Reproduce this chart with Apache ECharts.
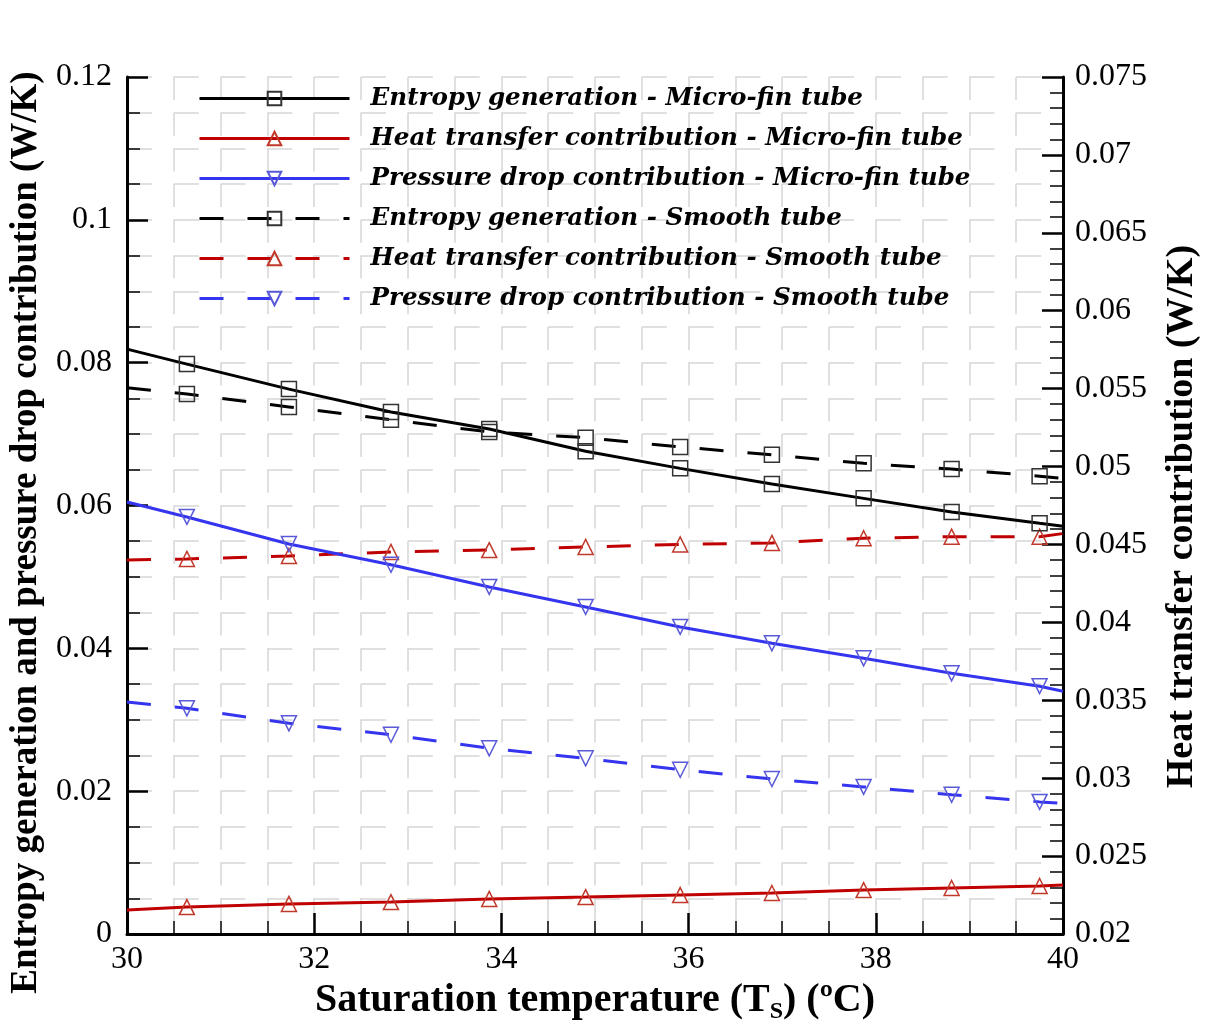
<!DOCTYPE html>
<html>
<head>
<meta charset="utf-8">
<script src="https://cdn.jsdelivr.net/npm/echarts@6/dist/echarts.min.js"></script>
<style>
  html, body { margin: 0; padding: 0; background: #fff; }
  #chart { width: 1205px; height: 1020px; }
</style>
</head>
<body>
<div id="chart"></div>
<script>
/* Entropy generation vs saturation temperature - micro-fin vs smooth tube */

// saturation temperature (deg C); first/last are line ends, the rest carry markers
const tempC = [30, 30.64, 31.73, 32.82, 33.87, 34.90, 35.91, 36.89, 37.87, 38.81, 39.75, 40];

// left axis (W/K)
const entropyMicroFin = [0.0819, 0.0798, 0.0763, 0.0731, 0.0707, 0.0676, 0.0652, 0.0630, 0.0610, 0.0591, 0.0575, 0.0571];
const pressureMicroFin = [0.0605, 0.0584, 0.0546, 0.0517, 0.0486, 0.0458, 0.0430, 0.0407, 0.0386, 0.0365, 0.0347, 0.0340];
const entropySmooth = [0.0765, 0.0756, 0.0738, 0.0720, 0.0703, 0.0695, 0.0682, 0.0671, 0.0659, 0.0651, 0.0641, 0.0638];
const pressureSmooth = [0.0325, 0.0316, 0.0295, 0.0279, 0.0260, 0.0246, 0.0230, 0.0217, 0.0206, 0.0195, 0.0185, 0.0183];

// right axis (W/K)
const heatMicroFin = [0.02154, 0.02173, 0.02193, 0.02205, 0.02225, 0.02237, 0.0225, 0.02263, 0.02282, 0.02295, 0.02308, 0.02314];
const heatSmooth = [0.0440, 0.04407, 0.04426, 0.04452, 0.04464, 0.04484, 0.0450, 0.0451, 0.0454, 0.0455, 0.0455, 0.0457];

const seriesNames = [
  'Entropy generation - Micro-fin tube',
  'Heat transfer contribution - Micro-fin tube',
  'Pressure drop contribution - Micro-fin tube',
  'Entropy generation - Smooth tube',
  'Heat transfer contribution - Smooth tube',
  'Pressure drop contribution - Smooth tube'
];

const chart = echarts.init(document.getElementById('chart'), null, { renderer: 'canvas' });

const SERIF = 'Liberation Serif, Times New Roman, serif';
const GRID_COLOR = '#d6d6d6';

function toPoints(values) {
  const last = values.length - 1;
  return tempC.map((t, i) => {
    const p = { value: [t, values[i]] };
    if (i === 0 || i === last) p.symbol = 'none';
    return p;
  });
}

function makeSeries(name, values, axis, color, markColor, symbol, rotate, dashed) {
  return {
    name,
    type: 'line',
    yAxisIndex: axis,
    data: toPoints(values),
    symbol,
    symbolSize: 15,
    symbolRotate: rotate,
    showSymbol: true,
    lineStyle: { color, width: 3, type: dashed ? [24, 24] : 'solid' },
    itemStyle: { color: 'rgba(255,255,255,0)', borderColor: markColor, borderWidth: 1.5 },
    emphasis: { disabled: true },
    z: dashed ? 3 : 4
  };
}

const trimNum = v => String(parseFloat(v.toFixed(4)));

const option = {
  backgroundColor: '#fff',
  animation: false,
  grid: { left: 127, right: 142, top: 77, bottom: 86, outerBoundsMode: 'none', containLabel: false },
  legend: {
    orient: 'vertical',
    left: 193,
    top: 81,
    itemWidth: 150,
    itemHeight: 17,
    itemGap: 15,
    lineStyle: { width: 3 },
    textStyle: {
      fontFamily: 'DejaVu Serif',
      fontStyle: 'italic',
      fontWeight: 'bold',
      fontSize: 24.6,
      color: '#000',
      padding: [0, 0, 0, 16]
    },
    data: seriesNames
  },
  xAxis: {
    type: 'value',
    min: 30,
    max: 40,
    interval: 2,
    position: 'bottom',
    name: 'Saturation temperature (T{sub|S}) (ºC)',
    nameLocation: 'middle',
    nameGap: 35,
    nameTextStyle: {
      fontFamily: SERIF, fontWeight: 'bold', fontSize: 40, color: '#000',
      rich: { sub: { fontFamily: SERIF, fontWeight: 'bold', fontSize: 24, color: '#000', padding: [22, 0, 0, 0] } }
    },
    axisLine: { onZero: false, lineStyle: { color: '#000', width: 3 } },
    axisTick: { inside: true, length: 21, lineStyle: { color: '#000', width: 2.5 } },
    minorTick: { show: true, splitNumber: 4, length: 13, lineStyle: { color: '#000', width: 1.5 } },
    axisLabel: { fontFamily: SERIF, fontSize: 32, color: '#000', margin: 10 },
    splitLine: { show: true, lineStyle: { color: GRID_COLOR, width: 1.5, type: [23, 12.7] } },
    minorSplitLine: { show: true, lineStyle: { color: GRID_COLOR, width: 1.5, type: [23, 12.7] } }
  },
  yAxis: [
    {
      type: 'value',
      position: 'left',
      min: 0,
      max: 0.12,
      interval: 0.02,
      name: 'Entropy generation and pressure drop contribution (W/K)',
      nameLocation: 'middle',
      nameGap: 77,
      nameTextStyle: { fontFamily: SERIF, fontWeight: 'bold', fontSize: 37, color: '#000', padding: [0, 54, 0, 0] },
      axisLine: { show: true, lineStyle: { color: '#000', width: 3 } },
      axisTick: { show: true, inside: true, length: 21, lineStyle: { color: '#000', width: 2.5 } },
      minorTick: { show: true, splitNumber: 4, length: 13, lineStyle: { color: '#000', width: 1.5 } },
      axisLabel: { fontFamily: SERIF, fontSize: 32, color: '#000', margin: 15, formatter: trimNum },
      splitLine: { show: true, lineStyle: { color: GRID_COLOR, width: 1.5, type: [25, 21.8] } },
      minorSplitLine: { show: true, lineStyle: { color: GRID_COLOR, width: 1.5, type: [25, 21.8] } }
    },
    {
      type: 'value',
      position: 'right',
      min: 0.02,
      max: 0.075,
      interval: 0.005,
      name: 'Heat transfer contribution (W/K)',
      nameLocation: 'middle',
      nameGap: 100,
      nameTextStyle: { fontFamily: SERIF, fontWeight: 'bold', fontSize: 38, color: '#000', padding: [0, 22, 0, 0] },
      axisLine: { show: true, lineStyle: { color: '#000', width: 3 } },
      axisTick: { show: true, inside: true, length: 21, lineStyle: { color: '#000', width: 2.5 } },
      minorTick: { show: true, splitNumber: 5, length: 13, lineStyle: { color: '#000', width: 1.5 } },
      axisLabel: { fontFamily: SERIF, fontSize: 32, color: '#000', margin: 12, formatter: trimNum },
      splitLine: { show: false }
    }
  ],
  series: [
    makeSeries(seriesNames[0], entropyMicroFin, 0, '#000', '#333', 'rect', 0, false),
    makeSeries(seriesNames[1], heatMicroFin, 1, '#c00000', '#c0392b', 'triangle', 0, false),
    makeSeries(seriesNames[2], pressureMicroFin, 0, '#3535f0', '#5a5ad8', 'triangle', 180, false),
    makeSeries(seriesNames[3], entropySmooth, 0, '#000', '#333', 'rect', 0, true),
    makeSeries(seriesNames[4], heatSmooth, 1, '#c00000', '#c0392b', 'triangle', 0, true),
    makeSeries(seriesNames[5], pressureSmooth, 0, '#3535f0', '#5a5ad8', 'triangle', 180, true)
  ]
};

chart.setOption(option);
window.addEventListener('resize', () => chart.resize());
</script>
</body>
</html>
